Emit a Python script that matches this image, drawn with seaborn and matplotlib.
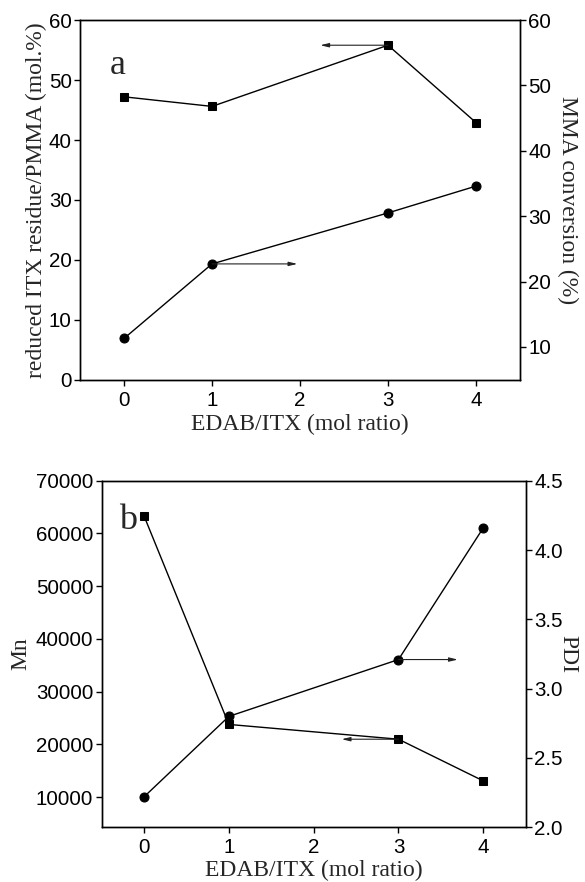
import matplotlib
matplotlib.use("Agg")
import matplotlib.pyplot as plt
import seaborn as sns
import numpy as np
import pandas as pd

# ---- data ----
ratio = [0, 1, 3, 4]
reduced_itx = [47.2, 45.6, 55.8, 42.9]        # left axis (a), squares
mma_conversion = [11.3, 22.7, 30.5, 34.6]     # right axis (a), circles
mn = [63300, 23800, 21000, 13100]             # left axis (b), squares
pdi = [2.22, 2.80, 3.21, 4.16]                # right axis (b), circles

xticks = [0, 1, 2, 3, 4]
yticks_a_left = [0, 10, 20, 30, 40, 50, 60]
yticks_a_right = [10, 20, 30, 40, 50, 60]
yticks_b_left = [10000, 20000, 30000, 40000, 50000, 60000, 70000]
yticks_b_right = [2.0, 2.5, 3.0, 3.5, 4.0, 4.5]

sns.set_style("ticks")
plt.rcParams['font.family'] = ['Liberation Sans', 'DejaVu Sans']
plt.rcParams['axes.linewidth'] = 1.0

SERIF = ['Liberation Serif', 'DejaVu Serif']
TICK_FS = 14.8
LABEL_FS = 17

fig = plt.figure(figsize=(5.85, 8.82), dpi=100)

def style_axes(ax, twin):
    for a in (ax, twin):
        a.tick_params(direction='out', length=4.5, width=1, labelsize=TICK_FS, colors='black', pad=1.5)
    ax.tick_params(axis='x', pad=3.5)
    ax.tick_params(axis='y', right=False)
    twin.tick_params(axis='y', left=False)
    for s in ax.spines.values():
        s.set_color('black')
    for s in twin.spines.values():
        s.set_color('black')

def arrow(ax, x0, y0, x1, y1):
    ax.annotate('', xy=(x1, y1), xytext=(x0, y0),
                arrowprops=dict(arrowstyle='-|>,head_length=0.5,head_width=0.12',
                                color='#222222', lw=0.8, shrinkA=0, shrinkB=0))

# ---------- panel a ----------
axa = fig.add_axes([0.1368, 0.5692, 0.7521, 0.4081])
sns.lineplot(x=ratio, y=reduced_itx, ax=axa, color='black', lw=1.0,
             marker='s', markersize=6.3, markeredgecolor='black', markerfacecolor='black')
axa2 = axa.twinx()
sns.lineplot(x=ratio, y=mma_conversion, ax=axa2, color='black', lw=1.0,
             marker='o', markersize=6.5, markeredgecolor='black', markerfacecolor='black')
axa.set_xlim(-0.5, 4.5)
axa.set_ylim(0, 60)
axa2.set_ylim(4.95, 60)
axa.set_xticks(xticks)
axa.set_yticks(yticks_a_left)
axa2.set_yticks(yticks_a_right)
style_axes(axa, axa2)
axa.set_xlabel('EDAB/ITX (mol ratio)', family=SERIF, fontsize=LABEL_FS, labelpad=3)
axa.set_ylabel('reduced ITX residue/PMMA (mol.%)', family=SERIF, fontsize=LABEL_FS, labelpad=1)
axa2.set_ylabel('MMA conversion (%)', family=SERIF, fontsize=LABEL_FS, rotation=270, labelpad=19)
axa.text(-0.16, 52.5, 'a', family=SERIF, fontsize=26, va='center', ha='left')
arrow(axa, 3, reduced_itx[2], 2.23, reduced_itx[2])
arrow(axa2, 1, mma_conversion[1], 1.97, mma_conversion[1])

# ---------- panel b ----------
axb = fig.add_axes([0.1738, 0.0620, 0.7248, 0.3930])
sns.lineplot(x=ratio, y=mn, ax=axb, color='black', lw=1.0,
             marker='s', markersize=6.3, markeredgecolor='black', markerfacecolor='black')
axb2 = axb.twinx()
sns.lineplot(x=ratio, y=pdi, ax=axb2, color='black', lw=1.0,
             marker='o', markersize=6.5, markeredgecolor='black', markerfacecolor='black')
axb.set_xlim(-0.5, 4.5)
axb.set_ylim(4300, 70000)
axb2.set_ylim(2.0, 4.5)
axb.set_xticks(xticks)
axb.set_yticks(yticks_b_left)
axb.set_yticklabels([str(v) for v in yticks_b_left])
axb2.set_yticks(yticks_b_right)
axb2.set_yticklabels([f'{v:.1f}' for v in yticks_b_right])
style_axes(axb, axb2)
axb.set_xlabel('EDAB/ITX (mol ratio)', family=SERIF, fontsize=LABEL_FS, labelpad=2)
axb.set_ylabel('Mn', family=SERIF, fontsize=LABEL_FS, labelpad=3)
axb2.set_ylabel('PDI', family=SERIF, fontsize=LABEL_FS, rotation=270, labelpad=11)
axb.text(-0.29, 62500, 'b', family=SERIF, fontsize=26, va='center', ha='left')
arrow(axb, 3, mn[2], 2.33, mn[2])
arrow(axb2, 3, pdi[2], 3.7, pdi[2])

fig.savefig('out.png', dpi=100)
